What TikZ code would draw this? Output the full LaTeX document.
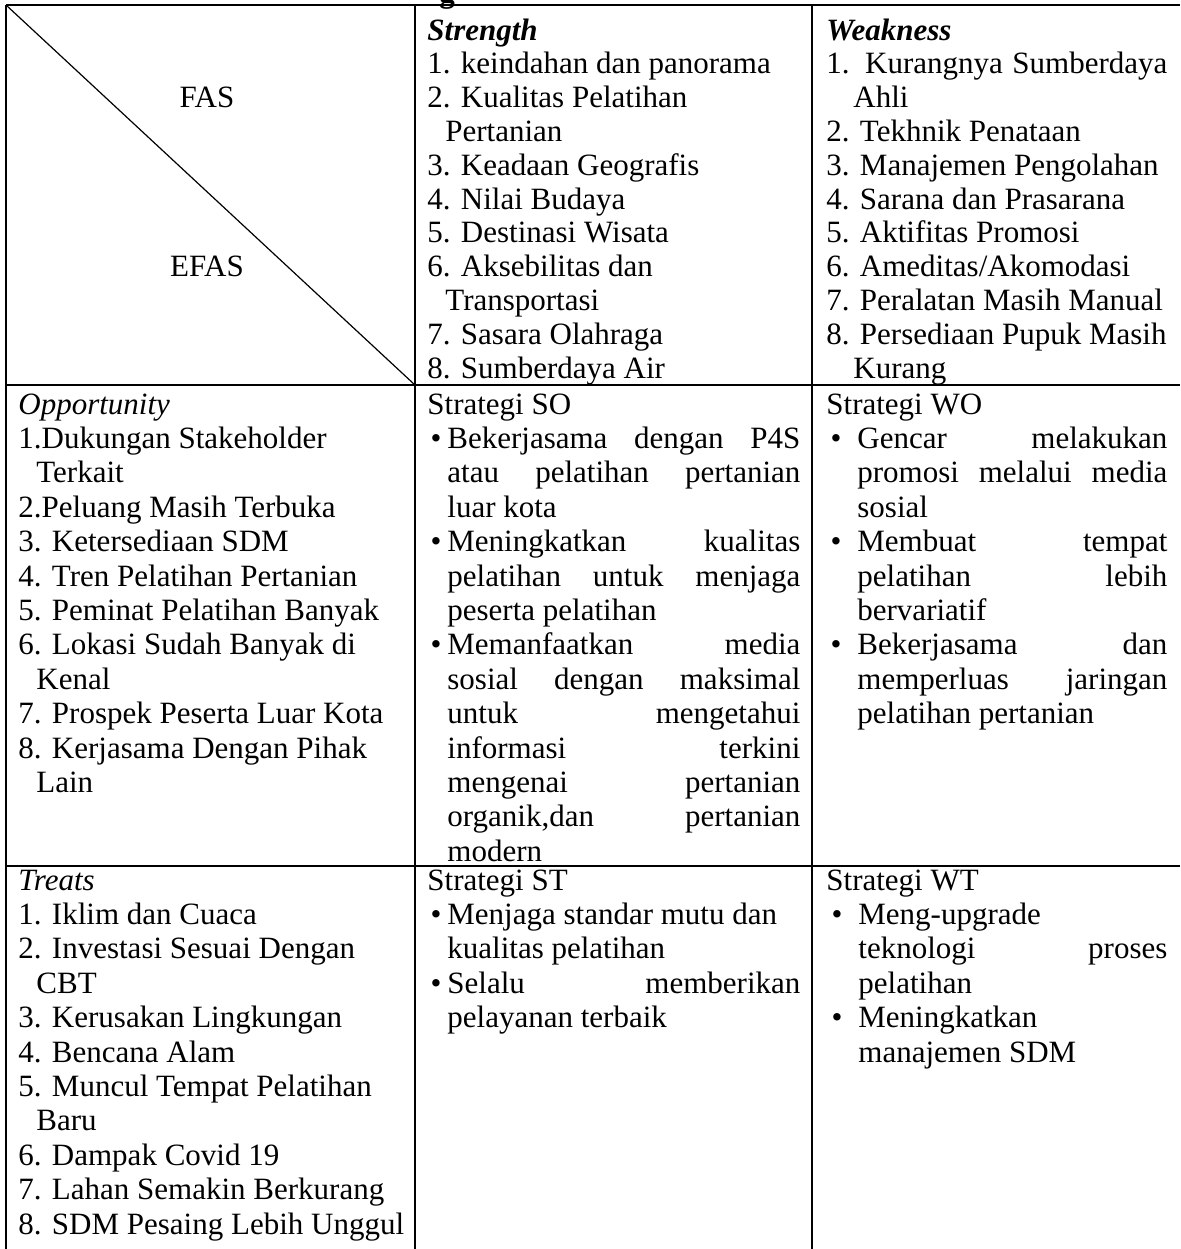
\documentclass[tikz,border=0pt]{standalone}
\usepackage{fontspec}
\setmainfont{Liberation Serif}

% helpers for the cell lines
\newcommand{\indt}[1][9pt]{\hspace*{#1}}
\newcommand{\bul}[1][3pt]{\llap{\textbullet\hspace*{#1}}}
\newcommand{\jst}[2]{\makebox[#1][s]{#2}}

\tikzset{
  cell/.style={anchor=base west,inner sep=0pt,font=\fontsize{15.5}{17.2}\selectfont},
  rule/.style={line width=1.2pt},
}

\begin{document}
\begin{tikzpicture}[x=0.5pt,y=-0.5pt]
  \useasboundingbox (0,0) rectangle (1180,1249);
  % table rules
  \draw[rule] (6,5) -- (1180,5);
  \draw[rule] (6,385) -- (1180,385);
  \draw[rule] (6,866) -- (1180,866);
  \foreach \x in {6,415,812} \draw[rule] (\x,5) -- (\x,1249);
  \draw[line width=0.6pt] (6,5) -- (415,385);
  \node[cell,anchor=base] (capg) at (447,2) {\textbf{g}};

  % header row
  \node[cell,anchor=base] (fas) at (207,{40+33.8*2}) {FAS};
  \node[cell,anchor=base] (efas) at (207,{40+33.8*7}) {EFAS};
  \foreach \t [count=\i from 0] in {\textbf{\textit{Strength}}, 1. keindahan dan panorama,
      2. Kualitas Pelatihan, \indt Pertanian, 3. Keadaan Geografis, 4. Nilai Budaya,
      5. Destinasi Wisata, 6. Aksebilitas dan, \indt Transportasi, 7. Sasara Olahraga,
      8. Sumberdaya Air}
    \node[cell] (s-\i) at (427,{40+33.8*\i}) {\t};
  \foreach \t [count=\i from 0] in {\textbf{\textit{Weakness}}, \jst{170.5pt}{1. Kurangnya Sumberdaya},
      \indt[13.5pt]Ahli, 2. Tekhnik Penataan, 3. Manajemen Pengolahan, 4. Sarana dan Prasarana,
      5. Aktifitas Promosi, 6. Ameditas/Akomodasi, 7. Peralatan Masih Manual,
      8. Persediaan Pupuk Masih, \indt[13.5pt]Kurang}
    \node[cell] (w-\i) at (826,{40+33.8*\i}) {\t};

  % opportunity row
  \foreach \t [count=\i from 0] in {\textit{Opportunity}, 1.Dukungan Stakeholder, \indt Terkait,
      2.Peluang Masih Terbuka, 3. Ketersediaan SDM, 4. Tren Pelatihan Pertanian,
      5. Peminat Pelatihan Banyak, 6. Lokasi Sudah Banyak di, \indt Kenal,
      7. Prospek Peserta Luar Kota, 8. Kerjasama Dengan Pihak, \indt Lain}
    \node[cell] (o-\i) at (18,{414+34.4*\i}) {\t};
  \node[cell] (so) at (427,414) {Strategi SO};
  \foreach \t [count=\i from 1] in {\bul\jst{176.5pt}{Bekerjasama dengan P4S},
      \jst{176.5pt}{atau pelatihan pertanian}, luar kota,
      \bul\jst{176.5pt}{Meningkatkan kualitas}, \jst{176.5pt}{pelatihan untuk menjaga},
      peserta pelatihan, \bul\jst{176.5pt}{Memanfaatkan media},
      \jst{176.5pt}{sosial dengan maksimal}, \jst{176.5pt}{untuk mengetahui},
      \jst{176.5pt}{informasi terkini}, \jst{176.5pt}{mengenai pertanian},
      \jst{176.5pt}{organik,dan pertanian}, modern}
    \node[cell] (so-\i) at (447,{414+34.4*\i}) {\t};
  \node[cell] (wo) at (826,414) {Strategi WO};
  \foreach \t [count=\i from 1] in {\bul[8pt]\jst{155pt}{Gencar melakukan},
      \jst{155pt}{promosi melalui media}, sosial,
      \bul[8pt]\jst{155pt}{Membuat tempat}, \jst{155pt}{pelatihan lebih}, bervariatif,
      \bul[8pt]\jst{155pt}{Bekerjasama dan}, \jst{155pt}{memperluas jaringan},
      pelatihan pertanian}
    \node[cell] (wo-\i) at (857,{414+34.4*\i}) {\t};

  % treats row
  \foreach \t [count=\i from 0] in {\textit{Treats}, 1. Iklim dan Cuaca,
      2. Investasi Sesuai Dengan, \indt CBT, 3. Kerusakan Lingkungan, 4. Bencana Alam,
      5. Muncul Tempat Pelatihan, \indt Baru, 6. Dampak Covid 19,
      7. Lahan Semakin Berkurang, 8. SDM Pesaing Lebih Unggul}
    \node[cell] (t-\i) at (18,{890+34.4*\i}) {\t};
  \node[cell] (st) at (427,890) {Strategi ST};
  \foreach \t [count=\i from 1] in {\bul Menjaga standar mutu dan, kualitas pelatihan,
      \bul\jst{176.5pt}{Selalu memberikan}, pelayanan terbaik}
    \node[cell] (st-\i) at (447,{890+34.4*\i}) {\t};
  \node[cell] (wt) at (826,890) {Strategi WT};
  \foreach \t [count=\i from 1] in {\bul[8pt]Meng-upgrade, \jst{154.5pt}{teknologi proses},
      pelatihan, \bul[8pt]Meningkatkan, manajemen SDM}
    \node[cell] (wt-\i) at (858,{890+34.4*\i}) {\t};
\end{tikzpicture}
\end{document}
